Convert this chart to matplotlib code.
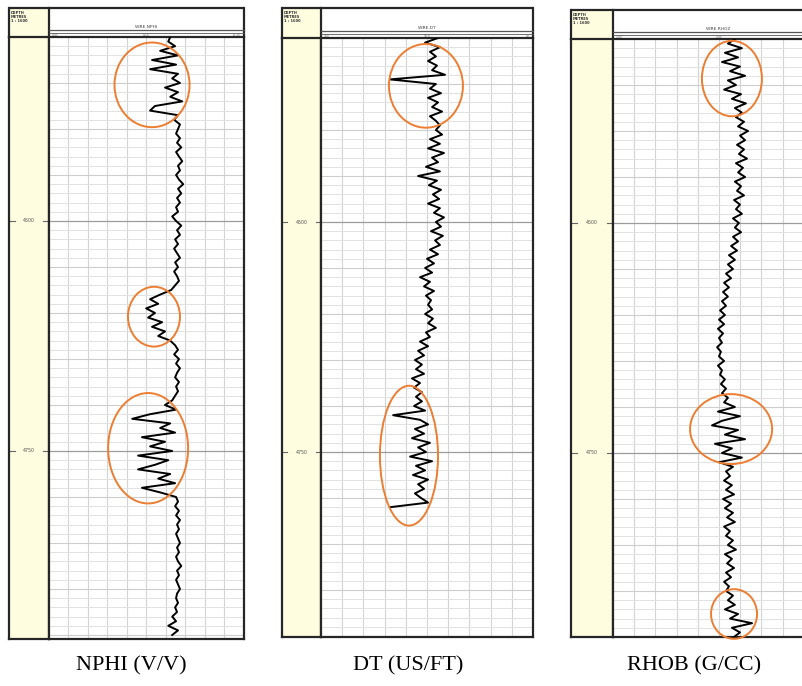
# well log composite - NPHI / DT / RHOB tracks with highlighted zones
import numpy as np
import matplotlib.pyplot as plt
from matplotlib import patches

W, H = 803, 686
PX_PER_M = 0.92          # vertical scale of the depth tracks (pixels per metre)
TOP_DEPTH = 4300

# ---- curve data (5 m samples) ----
depth_nphi = np.arange(4300, 4955, 5)
nphi = [0.077, 0.083, 0.062, 0.108, 0.053, 0.133, 0.059, 0.139, 0.053, 0.071,
        0.047, 0.093, 0.053, 0.077, 0.040, 0.124, 0.139, 0.053, 0.065, 0.047,
        0.053, 0.059, 0.047, 0.056, 0.043, 0.059, 0.050, 0.040, 0.053, 0.047,
        0.059, 0.050, 0.037, 0.053, 0.043, 0.056, 0.047, 0.059, 0.053, 0.071, 0.059,
        0.043, 0.056, 0.047, 0.062, 0.053, 0.065, 0.056, 0.047, 0.062, 0.053,
        0.065, 0.056, 0.050, 0.062, 0.074,
        0.108, 0.139, 0.114, 0.151, 0.124, 0.145, 0.102, 0.133, 0.093, 0.114,
        0.077, 0.062,
        0.053, 0.065, 0.050, 0.059, 0.047, 0.056, 0.062, 0.050, 0.059, 0.053, 0.062,
        0.071, 0.093, 0.059, 0.139, 0.194, 0.077, 0.108, 0.062, 0.164, 0.093,
        0.139, 0.071, 0.176, 0.083, 0.124, 0.176, 0.077, 0.114, 0.062, 0.164,
        0.108, 0.059, 0.053, 0.062,
        0.050, 0.059, 0.047, 0.056, 0.050, 0.059, 0.053, 0.047, 0.056, 0.050,
        0.059, 0.053, 0.043, 0.056, 0.050, 0.059, 0.053, 0.047, 0.056, 0.059,
        0.053, 0.062, 0.056, 0.071, 0.059, 0.083, 0.053, 0.071]

depth_dt = np.arange(4300, 4815, 5)
dt = [84.8, 90.9, 83.9, 88.6, 85.8, 89.5, 85.3, 87.6, 81.5, 107.5,
      85.8, 88.6, 83.4, 89.5, 84.8, 87.6, 82.9, 88.6, 85.8, 83.9,
      85.8, 82.9, 88.6, 83.9, 89.5, 82.0, 87.6, 84.8, 90.5, 83.9,
      94.2, 85.3, 89.1, 83.4, 87.2, 84.3, 89.5, 83.9, 86.7, 82.0,
      85.8, 83.4, 88.1, 82.5, 86.2, 83.9, 88.6, 84.8, 90.0, 86.7,
      90.9, 87.6, 93.3, 88.6, 91.4, 86.7, 90.5, 88.1, 89.5, 87.6,
      90.9, 87.2, 89.5, 85.8, 90.5, 88.6, 93.3, 89.5, 94.2, 91.4,
      95.7, 92.4, 95.2, 91.4, 97.1, 93.3, 96.1, 92.4, 95.2,
      92.4, 96.1, 90.9, 106.0, 93.3, 89.5, 95.7, 91.4, 97.1, 88.6,
      94.2, 90.5, 98.0, 87.6, 95.2, 90.9, 96.6, 89.5, 94.2, 91.4,
      95.7, 92.8, 89.5, 107.5]

depth_rhob = np.arange(4300, 4955, 5)
rhob = [2.525, 2.492, 2.558, 2.478, 2.540, 2.464, 2.549, 2.502, 2.573, 2.492,
        2.530, 2.474, 2.554, 2.511, 2.577, 2.525, 2.558, 2.530,
        2.568, 2.540, 2.587, 2.549, 2.573, 2.535, 2.568, 2.544, 2.582, 2.530,
        2.563, 2.540, 2.573, 2.525, 2.554, 2.535, 2.568, 2.521, 2.549, 2.530,
        2.558, 2.516, 2.544,
        2.525, 2.554, 2.516, 2.540, 2.507, 2.535, 2.497, 2.525, 2.492, 2.516,
        2.483, 2.507, 2.474, 2.497, 2.469,
        2.492, 2.464, 2.483, 2.455, 2.478, 2.450, 2.474, 2.445, 2.469, 2.450,
        2.464, 2.441, 2.459, 2.450, 2.474, 2.445, 2.464, 2.455, 2.478, 2.459,
        2.483, 2.464, 2.492,
        2.474, 2.525, 2.445, 2.549, 2.464, 2.417, 2.540, 2.478, 2.573, 2.431,
        2.511, 2.464, 2.558, 2.450, 2.516, 2.483,
        2.502, 2.474, 2.511, 2.483, 2.521, 2.469, 2.507, 2.478, 2.516, 2.488,
        2.525, 2.474, 2.502, 2.483, 2.516, 2.492, 2.530, 2.478, 2.511, 2.488,
        2.521, 2.483, 2.507, 2.474, 2.497, 2.483, 2.516,
        2.492, 2.525, 2.478, 2.540, 2.502, 2.606, 2.511, 2.549, 2.521]

# highlighted zones: (centre value, centre depth, value width, depth height)
nphi_zones = [(0.133, 4352, 0.231, 92), (0.127, 4604, 0.160, 65), (0.145, 4747, 0.246, 120)]
dt_zones = [(90.5, 4352, 34.9, 91), (98.5, 4754, 27.4, 152)]
rhob_zones = [(2.511, 4343, 0.283, 82), (2.507, 4724, 0.387, 76), (2.521, 4925, 0.217, 54)]

captions = ["NPHI (V/V)", "DT (US/FT)", "RHOB (G/CC)"]
mnemonics = ["WIRE.NPHI", "WIRE.DT", "WIRE.RHOZ"]
scales = [(0.45, -0.15), (140, 40), (1.95, 2.95)]
depth_labels = [4500, 4750]

curves = [(nphi, depth_nphi, nphi_zones), (dt, depth_dt, dt_zones), (rhob, depth_rhob, rhob_zones)]

# panel layout in pixels: left, depth/log divider, right, top, track top, bottom, caption x
panels = [(9, 49, 244, 8, 37, 639, 131),
          (282, 321, 533, 8, 38, 637, 408),
          (571, 613, 825, 10, 39, 637, 694)]

frame = '#262626'
yellow = '#fefde0'
orange = '#ed7d31'

fig = plt.figure(figsize=(W / 100, H / 100), dpi=100)

def px_axes(x0, y0, x1, y1):
    return fig.add_axes([x0 / W, 1 - y1 / H, (x1 - x0) / W, (y1 - y0) / H])

# overlay in pixel coordinates for headers and captions
over = fig.add_axes([0, 0, 1, 1])
over.set_xlim(0, W)
over.set_ylim(H, 0)
over.axis('off')

for i, (x0, xd, x1, top, ttop, bot, cx) in enumerate(panels):
    dbot = TOP_DEPTH + (bot - ttop) / PX_PER_M
    lo, hi = scales[i]

    # header boxes
    over.add_patch(patches.Rectangle((x0, top), xd - x0, ttop - top, facecolor=yellow, edgecolor='none'))
    over.plot([x0, x1], [top, top], color=frame, lw=1.6, solid_capstyle='butt')
    for xx in (x0, xd, x1):
        over.plot([xx, xx], [top, ttop], color=frame, lw=1.6)
    over.plot([xd, x1], [ttop - 7, ttop - 7], color='#555555', lw=0.9)
    over.plot([xd, x1], [ttop - 4.5, ttop - 4.5], color='#555555', lw=0.6)
    over.text((xd + x1) / 2, ttop - 8, mnemonics[i], ha='center', va='bottom', fontsize=3.2, color='#444444')
    over.text(xd + 3, ttop - 2.2, str(lo), ha='left', va='center', fontsize=2.2, color='#666666')
    over.text((xd + x1) / 2, ttop - 2.2, str(round((lo + hi) / 2, 2)), ha='center', va='center',
              fontsize=2.2, color='#666666')
    if x1 < W:
        over.text(x1 - 3, ttop - 2.2, str(hi), ha='right', va='center', fontsize=2.2, color='#666666')
    over.text(x0 + 2, top + 3, "DEPTH\nMETRES\n1 : 1600", ha='left', va='top', fontsize=2.6,
              linespacing=1.0, color='#333333', fontweight='bold')

    # caption
    over.text(cx, 666, captions[i], ha='center', va='center', fontsize=16, family='Liberation Serif')

    # depth column
    axd = px_axes(x0, ttop, xd, bot)
    axd.set_facecolor(yellow)
    axd.set_xlim(0, 1)
    axd.set_ylim(dbot, TOP_DEPTH)
    axd.set_xticks([])
    axd.set_yticks([])
    for d in depth_labels:
        axd.text(0.5, d, str(d), ha='center', va='center', fontsize=3.4, color='#555555')
        axd.plot([0.03, 0.14], [d, d], color='#666666', lw=0.8)
        axd.plot([0.86, 0.97], [d, d], color='#666666', lw=0.8)
    for s in axd.spines.values():
        s.set_color(frame)
        s.set_linewidth(1.6)

    # log track
    ax = px_axes(xd, ttop, x1, bot)
    ax.set_xlim(lo, hi)
    ax.set_ylim(dbot, TOP_DEPTH)
    ax.set_xticks([])
    ax.set_yticks([])
    for k in range(1, 10):
        ax.axvline(lo + k * (hi - lo) / 10, color='#d4d4d4', lw=0.8, zorder=0)
    for d in np.arange(TOP_DEPTH + 10, dbot, 10):
        if d in depth_labels:
            ax.axhline(d, color='#9c9c9c', lw=0.9, zorder=0)
        elif d % 50 == 0:
            ax.axhline(d, color='#cdcdcd', lw=0.8, zorder=0)
        else:
            ax.axhline(d, color='#e2e2e2', lw=0.7, zorder=0)

    vals, dep, zones = curves[i]
    ax.plot(vals, dep, color='black', lw=1.4, zorder=3)

    for (v, d, w, h) in zones:
        ax.add_patch(patches.Ellipse((v, d), w, h, fill=False, edgecolor=orange, lw=1.4,
                                     clip_on=False, zorder=5))

    for s in ax.spines.values():
        s.set_color(frame)
        s.set_linewidth(1.6)

fig.savefig("out.png", dpi=100)
